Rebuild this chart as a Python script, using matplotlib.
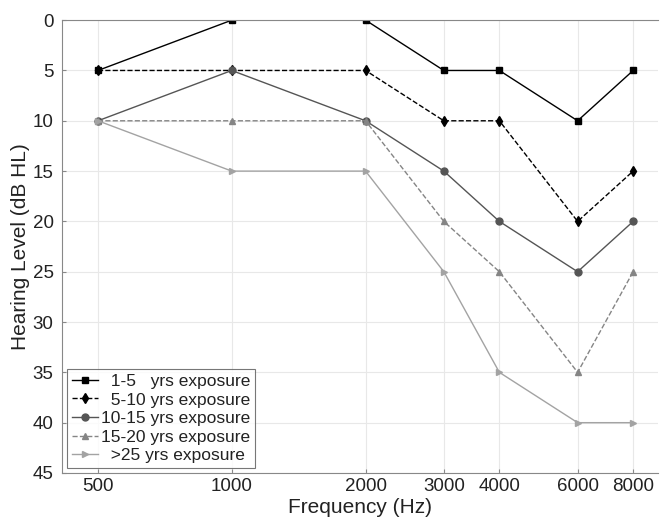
import numpy as np
import matplotlib.pyplot as plt

plt.rcParams['font.family'] = ['Liberation Sans', 'DejaVu Sans']

# data
freqs = [500, 1000, 2000, 3000, 4000, 6000, 8000]
yrs_1_5 = [5, 0, 0, 5, 5, 10, 5]
yrs_5_10 = [5, 5, 5, 10, 10, 20, 15]
yrs_10_15 = [10, 5, 10, 15, 20, 25, 20]
yrs_15_20 = [10, 10, 10, 20, 25, 35, 25]
yrs_25 = [10, 15, 15, 25, 35, 40, 40]

fig = plt.figure(figsize=(6.61, 5.29), dpi=100)
ax = fig.add_axes([0.0938, 0.1059, 0.9017, 0.856])

ax.plot(freqs, yrs_1_5, '-s', color='black', ms=5, lw=1.0, label='  1-5   yrs exposure')
ax.plot(freqs, yrs_5_10, '--d', color='black', ms=5, lw=1.0, label='  5-10 yrs exposure')
ax.plot(freqs, yrs_10_15, '-o', color='#555555', ms=5, lw=1.0, label='10-15 yrs exposure')
ax.plot(freqs, yrs_15_20, '--^', color='#858585', ms=5, lw=1.0, label='15-20 yrs exposure')
ax.plot(freqs, yrs_25, '->', color='#a3a3a3', ms=5, lw=1.0, label='  >25 yrs exposure')

ax.set_xscale('log')
ax.set_xlim(415, 9100)
ax.set_xticks(freqs)
ax.set_xticklabels([str(f) for f in freqs])
ax.minorticks_off()
ax.set_ylim(45, 0)
ax.set_yticks(range(0, 46, 5))
ax.tick_params(labelsize=13.5, direction='in', length=3, color='#888888', colors='#222222')
ax.tick_params(axis='y', pad=6)
ax.grid(True, color='#e8e8e8', lw=0.8)
for s in ax.spines.values():
    s.set_color('#888888')
ax.spines['right'].set_visible(False)

ax.set_xlabel('Frequency (Hz)', fontsize=15, labelpad=2, color='#222222')
ax.set_ylabel('Hearing Level (dB HL)', fontsize=15, labelpad=2, color='#222222')

leg = ax.legend(loc='lower left', fontsize=12.5, fancybox=False, edgecolor='#555555',
                handlelength=1.5, handletextpad=0.2, borderpad=0.25, labelspacing=0.2,
                borderaxespad=0.3)
leg.get_frame().set_linewidth(0.8)
for t in leg.get_texts():
    t.set_color('#222222')

fig.savefig('out.png', dpi=100)
